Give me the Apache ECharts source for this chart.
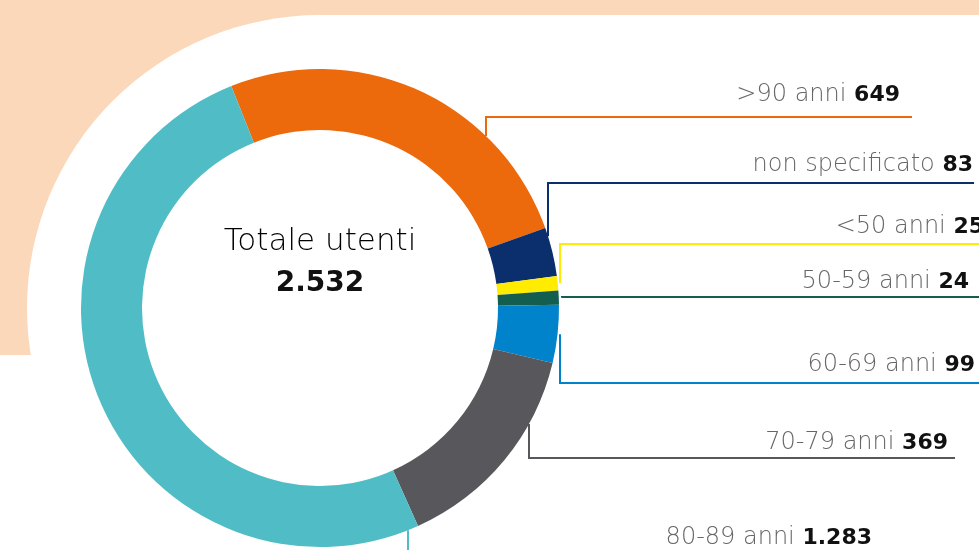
<!DOCTYPE html>
<html>
<head>
<meta charset="utf-8">
<script src="https://cdn.jsdelivr.net/npm/echarts@6/dist/echarts.min.js"></script>
<style>
  html, body { margin: 0; padding: 0; background: #fff; }
  #chart { width: 979px; height: 550px; }
</style>
</head>
<body>
<div id="chart"></div>
<script>
// utenti per fascia d'età (ordine orario dall'arancione)
var fasce = [">90 anni", "non specificato", "<50 anni", "50-59 anni", "60-69 anni", "70-79 anni", "80-89 anni"];
var utenti = [649, 83, 25, 24, 99, 369, 1283];
var colori = ["#ec690c", "#0b2e6c", "#ffec00", "#135e4f", "#0183cb", "#58575c", "#50bdc6"];

// layout etichette: [x linea verticale, y linea orizzontale, fine linea, x destra testo, y testo]
var posEtichette = [
  [486, 117, 912, 900, 95],
  [548, 183, 974, 973, 165],
  [560, 244, 990, 984, 227],
  [562, 297, 990, 969, 282],
  [560, 383, 990, 975, 365],
  [529, 458, 955, 948, 443],
  [408, 575, 900, 872, 538]
];

var cx = 320, cy = 308, rIn = 178, rOut = 239;

function fmt(n) {
  return String(n).replace(/\B(?=(\d{3})+(?!\d))/g, ".");
}

var totale = utenti.reduce(function (a, b) { return a + b; }, 0);

var dati = [];
for (var i = 0; i < fasce.length; i++) {
  dati.push({ name: fasce[i], value: utenti[i], itemStyle: { color: colori[i] } });
}

var myChart = echarts.init(document.getElementById("chart"));
var option = {
  animation: false,
  graphic: [
    { type: "rect", z: -10, shape: { x: 0, y: 0, width: 979, height: 355 }, style: { fill: "#fbd8ba" } },
    { type: "circle", z: -9, shape: { cx: cx, cy: cy, r: 293 }, style: { fill: "#fff" } },
    { type: "rect", z: -9, shape: { x: cx, y: 15, width: 700, height: 400 }, style: { fill: "#fff" } },
    {
      type: "text", z: 10, x: cx, y: 242,
      style: { text: "Totale utenti", font: "200 31px 'DejaVu Sans'", fill: "#000", textAlign: "center", textVerticalAlign: "middle" }
    },
    {
      type: "text", z: 10, x: cx, y: 284,
      style: { text: fmt(totale), font: "bold 28px 'DejaVu Sans'", fill: "#111", textAlign: "center", textVerticalAlign: "middle" }
    }
  ],
  series: [
    {
      type: "pie",
      center: [cx, cy],
      radius: [rIn, rOut],
      startAngle: 111.8,
      clockwise: true,
      avoidLabelOverlap: false,
      data: dati,
      label: {
        show: true,
        position: "outside",
        formatter: function (p) {
          return "{n|" + p.name + " }{v|" + fmt(p.value) + "}";
        },
        rich: {
          n: { fontFamily: "DejaVu Sans", fontSize: 24, fontWeight: 200, color: "#666" },
          v: { fontFamily: "DejaVu Sans", fontSize: 22, fontWeight: "bold", color: "#111" }
        }
      },
      labelLine: { show: true, length: 5, length2: 5, lineStyle: { width: 2 } },
      labelLayout: function (p) {
        var e = posEtichette[p.dataIndex];
        var lx = e[0], ly = e[1];
        var dx = lx - cx;
        var ay;
        if (Math.abs(dx) < rOut - 4) {
          var h = Math.sqrt(rOut * rOut - dx * dx);
          ay = ly < cy ? cy - h : cy + h;
        } else {
          ay = p.labelLinePoints ? p.labelLinePoints[0][1] : ly;
        }
        return {
          x: e[3], y: e[4], align: "right", verticalAlign: "middle",
          labelLinePoints: [[lx, ay], [lx, ly], [e[2], ly]]
        };
      }
    }
  ]
};
myChart.setOption(option);
window.onresize = function () { myChart.resize(); };
</script>
</body>
</html>
